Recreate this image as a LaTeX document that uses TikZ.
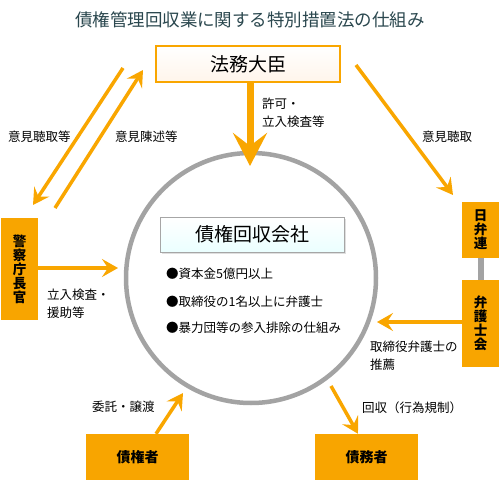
\documentclass[tikz,border=0pt]{standalone}
\usepackage{fontspec}
\setmainfont{Noto Sans CJK JP}
\usetikzlibrary{arrows.meta,shadows}
\definecolor{org}{HTML}{F9A600}
\definecolor{boxorg}{HTML}{F8A500}
\definecolor{ttl}{HTML}{2A474E}
\definecolor{ringgray}{HTML}{A3A3A3}
\tikzset{
  arr/.style={draw=org, line width=3.5pt, -{Stealth[length=16pt,width=18pt,inset=6pt]}},
  bigarr/.style={draw=org, line width=7pt, -{Stealth[length=33pt,width=34pt,inset=13pt]}},
  lbl/.style={font=\fontsize{12.5}{18}\selectfont, align=left, anchor=west, inner sep=0pt},
  obox/.style={fill=boxorg, draw=none, inner sep=0pt, font=\bfseries\fontsize{13.5}{14}\selectfont, align=center},
  topbox/.style={draw=org, line width=2pt, top color=white, bottom color=orange!8, inner sep=0pt, font=\fontsize{19}{22}\selectfont},
  combox/.style={draw=gray!70, line width=1pt, top color=white, bottom color=cyan!8, inner sep=0pt, font=\fontsize{19}{22}\selectfont, drop shadow={opacity=0.25, shadow xshift=1.5pt, shadow yshift=-1.5pt}},
  bul/.style={font=\fontsize{12.5}{14}\selectfont, anchor=west, inner sep=0pt}
}
\begin{document}
\begin{tikzpicture}[x=1pt,y=-1pt]
\useasboundingbox[fill=white] (0,0) rectangle (504,495);
% title
\node[text=ttl, font=\fontsize{17.5}{20}\selectfont, inner sep=0pt] (title) at (250,20) {債権管理回収業に関する特別措置法の仕組み};
% circle
\node[circle, draw=ringgray, line width=4.5pt, minimum size=250pt, inner sep=0pt] (circ) at (251,278) {};
% boxes
\node[topbox, minimum width=184pt, minimum height=36pt] (hm) at (248,64) {法務大臣};
\node[combox, minimum width=184pt, minimum height=35pt] (co) at (252,234.5) {債権回収会社};
\node[obox, minimum width=37pt, minimum height=102pt] (pol) at (19.5,269) {警\\察\\庁\\長\\官};
\node[obox, minimum width=37pt, minimum height=56pt] (nb) at (480.5,230) {日\\弁\\連};
\node[obox, minimum width=37pt, minimum height=87pt] (bk) at (480.5,323.5) {弁\\護\\士\\会};
\node[obox, minimum width=103pt, minimum height=46pt, font=\bfseries\fontsize{14}{16}\selectfont] (cr) at (137.5,457) {債権者};
\node[obox, minimum width=103pt, minimum height=46pt, font=\bfseries\fontsize{14}{16}\selectfont] (db) at (366.5,457) {債務者};
% bullets
\node[bul] (b1) at (166,274) {●資本金5億円以上};
\node[bul] (b2) at (166,302) {●取締役の1名以上に弁護士};
\node[bul] (b3) at (166,328) {●暴力団等の参入排除の仕組み};
% coordinates
\coordinate (hmtip) at (250,166);
\coordinate (l1s) at (123,68);
\coordinate (l1e) at (33,205);
\coordinate (l2s) at (55,208);
\coordinate (l2e) at (143,70);
\coordinate (r1s) at (356,65);
\coordinate (r1e) at (453,195);
\coordinate (poltip) at (118,268);
\coordinate (bktip) at (377,322);
\coordinate (crtip) at (183,393);
\coordinate (dbs) at (331,386);
% connectors
\draw[bigarr] (hm.south -| hmtip) -- (hmtip);
\draw[arr] (l1s) -- (l1e);
\draw[arr] (l2s) -- (l2e);
\draw[arr] (r1s) -- (r1e);
\draw[arr] (pol.east |- poltip) -- (poltip);
\draw[arr] (bk.west |- bktip) -- (bktip);
\draw[arr] (cr.north -| 156,0) -- (crtip);
\draw[arr] (dbs) -- (db.north -| 358,0);
\draw[draw=ringgray, line width=6pt] (nb.south) -- (bk.north);
% labels
\node[lbl] (t1) at (262,113) {許可・\\立入検査等};
\node[lbl] (t2) at (8,137) {意見聴取等};
\node[lbl] (t3) at (115,137) {意見陳述等};
\node[lbl] (t4) at (422,137) {意見聴取};
\node[lbl] (t5) at (47,304) {立入検査・\\援助等};
\node[lbl] (t6) at (370,356) {取締役弁護士の\\推薦};
\node[lbl] (t7) at (92,407) {委託・譲渡};
\node[lbl] (t8) at (362,408) {回収（行為規制）};
\end{tikzpicture}
\end{document}
